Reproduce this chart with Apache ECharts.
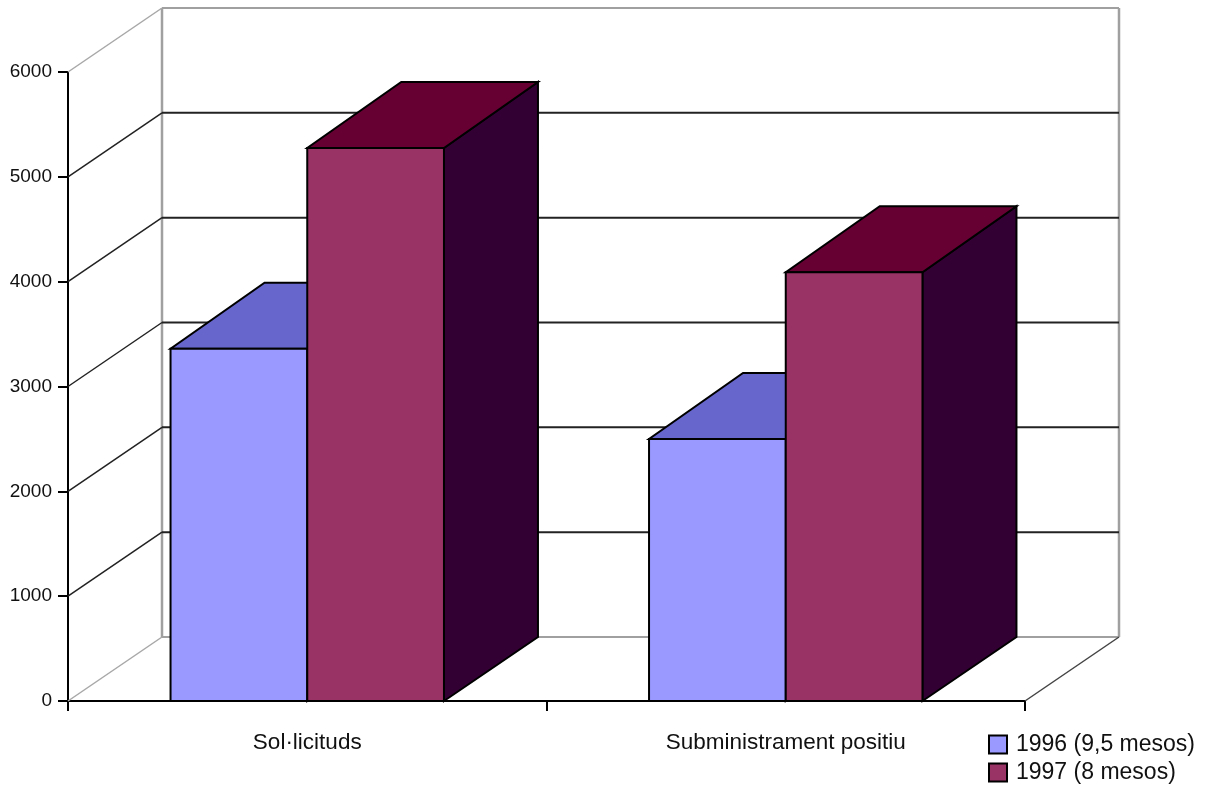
<!DOCTYPE html>
<html>
<head>
<meta charset="utf-8">
<style>html,body{margin:0;padding:0;background:#fff}#c{width:1208px;height:786px}</style>
<script src="https://cdn.jsdelivr.net/npm/echarts@6/dist/echarts.min.js"></script>
</head>
<body>
<div id="c"></div>
<script>
const categories = ['Sol\u00b7licituds', 'Subministrament positiu'];
const seriesNames = ['1996 (9,5 mesos)', '1997 (8 mesos)'];
const values1996 = [3360, 2500];
const values1997 = [5275, 4090];
const yTicks = [0, 1000, 2000, 3000, 4000, 5000, 6000];

const DEPTH_X = 94, WALL_DEPTH_Y = -64, BAR_TOP_DEPTH_Y = -66;
const FONT = '"Liberation Sans", Arial, sans-serif';
const palette = [
  { front: '#9999ff', top: '#6666cc', side: '#4d4d99' },
  { front: '#993366', top: '#660033', side: '#330033' }
];

function poly(points, fill) {
  return { type: 'polygon', shape: { points }, style: { fill, stroke: '#000', lineWidth: 2, lineJoin: 'miter' } };
}
function barRenderer(slot) {
  return function (params, api) {
    const base = api.coord([api.value(0), 0]);
    const top = api.coord([api.value(0), api.value(1)]);
    const w = api.size([1, 0])[0] / 3.5;
    const x0 = base[0] + (slot - 1) * w, x1 = x0 + w;
    const y0 = base[1], y1 = top[1];
    const c = palette[slot];
    return { type: 'group', children: [
      poly([[x1, y0], [x1 + DEPTH_X, y0 + WALL_DEPTH_Y], [x1 + DEPTH_X, y1 + BAR_TOP_DEPTH_Y], [x1, y1]], c.side),
      poly([[x0, y1], [x1, y1], [x1 + DEPTH_X, y1 + BAR_TOP_DEPTH_Y], [x0 + DEPTH_X, y1 + BAR_TOP_DEPTH_Y]], c.top),
      poly([[x0, y0], [x1, y0], [x1, y1], [x0, y1]], c.front)
    ] };
  };
}
function line(x1, y1, x2, y2, stroke, lineWidth) {
  return { type: 'line', shape: { x1, y1, x2, y2 }, style: { stroke, lineWidth } };
}
function wallRenderer(params, api) {
  const v = api.value(1);
  const y = api.coord([0, v])[1];
  const left = params.coordSys.x, right = left + params.coordSys.width;
  const edge = v === yTicks[0] || v === yTicks[yTicks.length - 1];
  const children = [
    line(left, y, left + DEPTH_X, y + WALL_DEPTH_Y, edge ? '#a8a8a8' : '#222', 1.5),
    line(left + DEPTH_X, y + WALL_DEPTH_Y, right + DEPTH_X, y + WALL_DEPTH_Y, edge ? '#a0a0a0' : '#222', 2)
  ];
  if (v === yTicks[0]) {
    const yMax = api.coord([0, yTicks[yTicks.length - 1]])[1];
    children.push(line(left + DEPTH_X, y + WALL_DEPTH_Y, left + DEPTH_X, yMax + WALL_DEPTH_Y, '#a0a0a0', 2.5));
    children.push(line(right + DEPTH_X, y + WALL_DEPTH_Y, right + DEPTH_X, yMax + WALL_DEPTH_Y, '#a0a0a0', 2.5));
    children.push(line(right, y, right + DEPTH_X, y + WALL_DEPTH_Y, '#444', 1.5));
  }
  return { type: 'group', children };
}

const chart = echarts.init(document.getElementById('c'), null, { renderer: 'canvas' });
chart.setOption({
  animation: false,
  backgroundColor: '#fff',
  grid: { left: 68, right: 183, top: 72, bottom: 85, containLabel: false },
  legend: {
    left: 988, top: 733, orient: 'vertical', height: 80,
    data: seriesNames.map(name => ({ name, icon: 'rect' })),
    itemWidth: 18, itemHeight: 18, itemGap: 5,
    selectedMode: false,
    itemStyle: { borderColor: '#000', borderWidth: 2 },
    textStyle: { fontFamily: FONT, fontSize: 23, lineHeight: 20, color: '#111', padding: [0, 0, 0, 4] },
    padding: 0
  },
  xAxis: {
    type: 'category', data: categories,
    axisLine: { onZero: false, lineStyle: { color: '#000', width: 2 } },
    axisTick: { show: true, length: 10, alignWithLabel: false, lineStyle: { color: '#000', width: 2 } },
    axisLabel: { margin: 30, fontFamily: FONT, fontSize: 22.5, color: '#111' },
    splitLine: { show: false }
  },
  yAxis: {
    type: 'value', min: 0, max: 6000, interval: 1000,
    axisLine: { show: true, lineStyle: { color: '#000', width: 2 } },
    axisTick: { show: true, length: 10, lineStyle: { color: '#000', width: 2 } },
    axisLabel: { margin: 16, fontFamily: FONT, fontSize: 19, color: '#111', formatter: v => String(v) },
    splitLine: { show: false }
  },
  series: [
    { name: 'walls', type: 'custom', renderItem: wallRenderer, clip: false, z: 1, silent: true,
      encode: { x: 0, y: 1 }, data: yTicks.map(v => [0, v]) },
    { name: seriesNames[0], type: 'custom', renderItem: barRenderer(0), clip: false, z: 2,
      itemStyle: { color: palette[0].front }, encode: { x: 0, y: 1 },
      data: values1996.map((v, i) => [i, v]) },
    { name: seriesNames[1], type: 'custom', renderItem: barRenderer(1), clip: false, z: 3,
      itemStyle: { color: palette[1].front }, encode: { x: 0, y: 1 },
      data: values1997.map((v, i) => [i, v]) }
  ]
});
</script>
</body>
</html>
